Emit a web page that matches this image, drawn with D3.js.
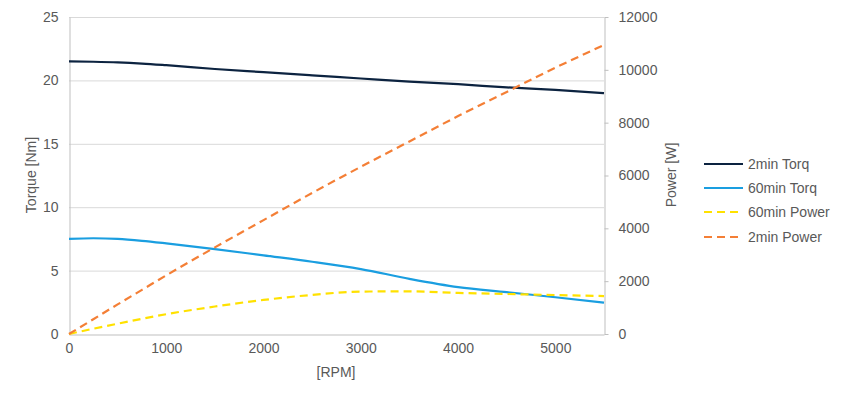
<!DOCTYPE html>
<html><head><meta charset="utf-8">
<script src="https://cdn.jsdelivr.net/npm/d3@7"></script>
<style>body{margin:0;background:#fff}svg{display:block}text{font-family:"Liberation Sans",Arial,sans-serif;fill:#595959}</style>
</head><body><svg id="c" width="845" height="400"></svg>
<script>
const rpm = [0,250,500,750,1000,1500,2000,2500,3000,3500,4000,4500,5000,5500];
const torq2min = [21.5,21.47,21.42,21.33,21.2,20.9,20.65,20.4,20.15,19.9,19.7,19.45,19.25,19.0];
const torq60min = [7.5,7.55,7.5,7.35,7.15,6.7,6.2,5.7,5.12,4.35,3.7,3.3,2.9,2.47];
const power60min = [0,200,390,575,750,1040,1290,1480,1605,1615,1555,1515,1475,1435];
const power2min = [0,560,1120,1670,2220,3280,4310,5340,6330,7290,8250,9165,10080,10940];
const xTicks = [0,1000,2000,3000,4000,5000];
const leftTicks = [0,5,10,15,20,25];
const rightTicks = [0,2000,4000,6000,8000,10000,12000];
const seriesNames = ["2min Torq","60min Torq","60min Power","2min Power"];
const colors = ["#0c2340","#1a9ee0","#ffe100","#f47f36"];

const svg = d3.select("#c");
const L=69,R=604,T=17,B=334;
const FS = 14;
const x = d3.scaleLinear().domain([0,5500]).range([L,R]);
const yL = d3.scaleLinear().domain([0,25]).range([B,T]);
const yR = d3.scaleLinear().domain([0,12000]).range([B,T]);

// gridlines
svg.append("g").selectAll("line").data(leftTicks.slice(1)).join("line")
  .attr("x1",L).attr("x2",R).attr("y1",d=>yL(d)+0.5).attr("y2",d=>yL(d)+0.5)
  .attr("stroke","#d9d9d9").attr("stroke-width",1);

// left axis
const gl = svg.append("g").attr("transform",`translate(${L+0.5},0)`)
  .call(d3.axisLeft(yL).tickValues(leftTicks).tickSize(0).tickPadding(11));
gl.select(".domain").attr("stroke","#bfbfbf");
gl.selectAll("text").attr("font-size",FS).style("fill","#595959");

// right axis
const gr = svg.append("g").attr("transform",`translate(${R+0.5},0)`)
  .call(d3.axisRight(yR).tickValues(rightTicks).tickSize(4).tickSizeOuter(0).tickPadding(10).tickFormat(d3.format("d")));
gr.select(".domain").attr("stroke","#bfbfbf");
gr.selectAll(".tick line").attr("stroke","#bfbfbf");
gr.selectAll("text").attr("font-size",FS).style("fill","#595959");

// bottom axis
const gb = svg.append("g").attr("transform",`translate(0,${B+0.5})`)
  .call(d3.axisBottom(x).tickValues(xTicks).tickSize(0).tickPadding(9).tickFormat(d3.format("d")));
gb.select(".domain").attr("stroke","#bfbfbf");
gb.selectAll("text").attr("font-size",FS).style("fill","#595959");

// axis titles
svg.append("text").attr("x",336).attr("y",377).attr("text-anchor","middle").attr("font-size",FS).text("[RPM]");
svg.append("text").attr("transform","translate(36,175) rotate(-90)").attr("text-anchor","middle").attr("font-size",FS).text("Torque [Nm]");
svg.append("text").attr("transform","translate(676,175) rotate(-90)").attr("text-anchor","middle").attr("font-size",FS).text("Power [W]");

const data = [
  {v:torq2min, s:yL, dash:null},
  {v:torq60min, s:yL, dash:null},
  {v:power60min, s:yR, dash:"8,5"},
  {v:power2min, s:yR, dash:"8,5"}
];
data.forEach((d,i)=>{
  const line = d3.line().x((v,j)=>x(rpm[j])).y(v=>d.s(v)).curve(d3.curveMonotoneX);
  svg.append("path").attr("d",line(d.v)).attr("fill","none")
    .attr("stroke",colors[i]).attr("stroke-width",2.2)
    .attr("stroke-dasharray",d.dash);
});

// legend
const lg = svg.append("g");
const ly = [164,188,212,237];
seriesNames.forEach((n,i)=>{
  lg.append("line").attr("x1",704).attr("x2",743).attr("y1",ly[i]).attr("y2",ly[i])
    .attr("stroke",colors[i]).attr("stroke-width",2.2)
    .attr("stroke-dasharray",i>=2?"8,5":null);
  lg.append("text").attr("x",748).attr("y",ly[i]+5).attr("font-size",FS).text(n);
});
</script></body></html>
